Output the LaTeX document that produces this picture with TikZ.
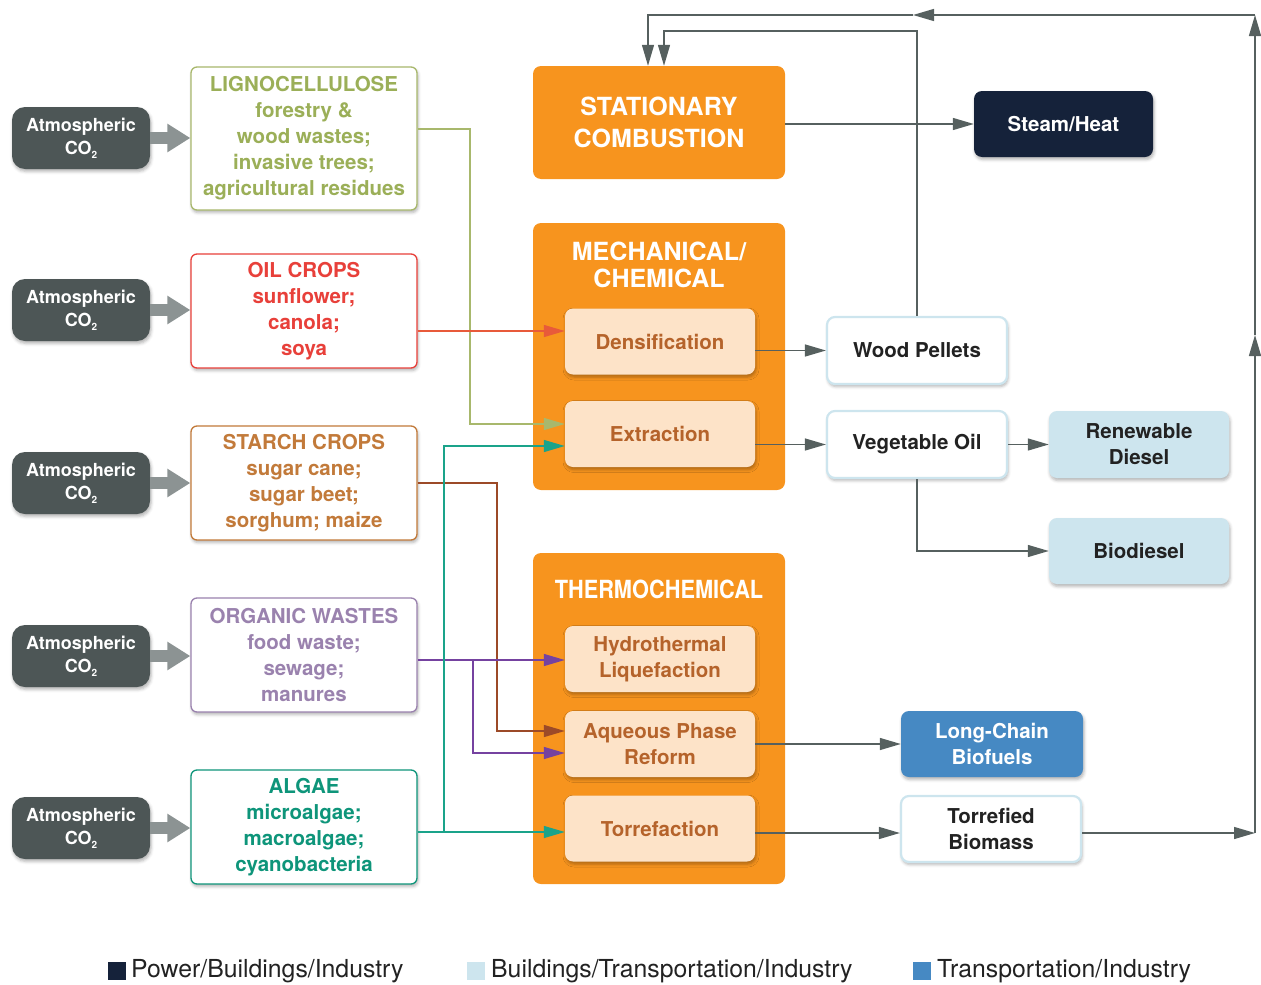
\documentclass[tikz,border=0pt]{standalone}
\usepackage{fontspec}
\usepackage{graphicx}
\setmainfont{TeX Gyre Heros}
\usetikzlibrary{arrows.meta,shadows.blur}

\definecolor{atmgray}{HTML}{4D5656}
\definecolor{arrgray}{HTML}{8C9393}
\definecolor{linegray}{HTML}{56605F}
\definecolor{lgcgreen}{HTML}{9BAF58}
\definecolor{lgcline}{HTML}{A8B86C}
\definecolor{oilred}{HTML}{E8403A}
\definecolor{oilline}{HTML}{E85A3A}
\definecolor{starchbrown}{HTML}{C27A3A}
\definecolor{starchline}{HTML}{9C4A28}
\definecolor{orgpurple}{HTML}{9A82AE}
\definecolor{orgline}{HTML}{7542A0}
\definecolor{algaeteal}{HTML}{0E957A}
\definecolor{algaeline}{HTML}{1AA38A}
\definecolor{procorange}{HTML}{F7941E}
\definecolor{subpeach}{HTML}{FDE3C8}
\definecolor{subtext}{HTML}{B5632B}
\definecolor{navybox}{HTML}{15223A}
\definecolor{lightblue}{HTML}{CDE5EE}
\definecolor{midblue}{HTML}{4689C3}
\definecolor{darktext}{HTML}{222222}

% carbon dioxide with a small, low subscript
\newcommand{\cotwo}{CO\raisebox{-0.45ex}{\fontsize{10}{10}\selectfont 2}}

\tikzset{
  softshadow/.style={blur shadow={shadow xshift=1pt, shadow yshift=-2.5pt,
      shadow blur radius=3pt, shadow opacity=30}},
  atm/.style={rounded corners=13pt, fill=atmgray, text=white, inner sep=0pt,
      minimum width=138pt, minimum height=62pt, align=center,
      font=\fontsize{18}{23}\selectfont\bfseries, softshadow},
  co2arr/.style={draw=arrgray, line width=12pt,
      -{Triangle[length=23pt,width=27pt]}},
  src/.style={draw, line width=1.3pt, fill=white, rounded corners=6pt,
      minimum width=226pt, inner sep=0pt, align=center,
      font=\fontsize{20.5}{26}\selectfont\bfseries, softshadow},
  proc/.style={fill=procorange, rounded corners=8pt, minimum width=252pt,
      inner sep=0pt},
  proctitle/.style={text=white, align=center,
      font=\fontsize{25}{27}\selectfont\bfseries},
  subbox/.style={fill=subpeach, rounded corners=8pt, minimum width=190pt,
      minimum height=66pt, inner sep=0pt, text=subtext, align=center,
      font=\fontsize{20.5}{26}\selectfont\bfseries, softshadow},
  outbox/.style={rounded corners=8pt, minimum width=180pt, minimum height=66pt,
      inner sep=0pt, align=center, font=\fontsize{20.5}{26}\selectfont\bfseries,
      softshadow},
  outwhite/.style={outbox, draw=lightblue, line width=2.2pt, fill=white, text=darktext},
  outlight/.style={outbox, fill=lightblue, text=darktext},
  conn/.style={line width=1.4pt, -{Triangle[length=21pt,width=12pt]}},
  gconn/.style={conn, draw=linegray},
  legsq/.style={minimum width=18pt, minimum height=18pt, inner sep=0pt},
  legtxt/.style={anchor=west, inner sep=0pt, text=darktext,
      font=\fontsize{24.8}{26}\selectfont},
}

\begin{document}
\begin{tikzpicture}[x=1pt,y=-1pt]
\useasboundingbox (0,0) rectangle (1261,985);

% feedstock sources
\node[src, draw=lgcline, text=lgcgreen, minimum height=143pt] (s1) at (304,138.5)
  {LIGNOCELLULOSE\\forestry \&\\wood wastes;\\invasive trees;\\agricultural residues};
\node[src, draw=oilred, text=oilred, minimum height=114pt] (s2) at (304,311)
  {OIL CROPS\\sunflower;\\canola;\\soya};
\node[src, draw=starchbrown, text=starchbrown, minimum height=114pt] (s3) at (304,483)
  {STARCH CROPS\\sugar cane;\\sugar beet;\\sorghum; maize};
\node[src, draw=orgpurple, text=orgpurple, minimum height=114pt] (s4) at (304,655)
  {ORGANIC WASTES\\food waste;\\sewage;\\manures};
\node[src, draw=algaeteal, text=algaeteal, minimum height=114pt] (s5) at (304,827)
  {ALGAE\\microalgae;\\macroalgae;\\cyanobacteria};

% atmospheric CO2 inputs
\node[atm] (a1) at (81,138) {Atmospheric\\\cotwo};
\node[atm] (a2) at (81,310) {Atmospheric\\\cotwo};
\node[atm] (a3) at (81,483) {Atmospheric\\\cotwo};
\node[atm] (a4) at (81,656) {Atmospheric\\\cotwo};
\node[atm] (a5) at (81,828) {Atmospheric\\\cotwo};
\foreach \i in {1,...,5}
  \draw[co2arr] (a\i.east) -- (a\i.east -| s\i.west);

% conversion processes
\node[proc, minimum height=113pt] (stat) at (659,122.5) {};
\node[proctitle, font=\fontsize{25}{32}\selectfont\bfseries] (statt) at (659,122.5) {STATIONARY\\COMBUSTION};
\node[proc, minimum height=267pt] (mech) at (659,356.5) {};
\node[proctitle] (mecht) at (659,264.5) {MECHANICAL/\\CHEMICAL};
\node[proc, minimum height=331pt] (thermo) at (659,718.5) {};
\node[proctitle] (thermot) at (659,589) {\scalebox{0.87}[1]{THERMOCHEMICAL}};

\node[subbox] (dens) at (660,341.5) {Densification};
\node[subbox] (extr) at (660,434) {Extraction};
\node[subbox] (hydro) at (660,659) {Hydrothermal\\Liquefaction};
\node[subbox] (aq) at (660,744) {Aqueous Phase\\Reform};
\node[subbox] (torr) at (660,828.5) {Torrefaction};

% products
\node[outbox, fill=navybox, text=white, minimum width=179pt] (steam) at (1063.5,124) {Steam/Heat};
\node[outwhite, minimum height=67pt] (wood) at (917,350.5) {Wood Pellets};
\node[outwhite, minimum height=67pt] (veg) at (917,444.5) {Vegetable Oil};
\node[outlight, minimum height=67pt] (renew) at (1139,444.5) {Renewable\\Diesel};
\node[outlight] (bio) at (1139,551) {Biodiesel};
\node[outbox, fill=midblue, text=white, minimum width=182pt] (long) at (992,744) {Long-Chain\\Biofuels};
\node[outwhite] (tb) at (991,829) {Torrefied\\Biomass};

% routing points
\coordinate (yL) at (470,129);
\coordinate (yLe) at (470,424);
\coordinate (yO) at (480,331);
\coordinate (yS) at (497,483);
\coordinate (ySe) at (497,731);
\coordinate (yW) at (480,660);
\coordinate (yWb) at (473,660);
\coordinate (yWe) at (473,753);
\coordinate (yA) at (480,832);
\coordinate (yAb) at (444,832);
\coordinate (yAe) at (444,446);
\coordinate (yT) at (800,833);
\coordinate (kW) at (664,31);
\coordinate (kR1) at (1255,833);
\coordinate (kR2) at (1255,335);
\coordinate (kR3) at (1255,15);
\coordinate (kR4) at (913,15);
\coordinate (kR5) at (648,15);

% feedstock flows
\draw[conn, draw=lgcline] (s1.east |- yL) -- (yL) -- (yLe) -- (extr.west |- yLe);
\draw[conn, draw=oilline] (s2.east |- yO) -- (dens.west |- yO);
\draw[conn, draw=starchline] (s3.east |- yS) -- (yS) -- (ySe) -- (aq.west |- ySe);
\draw[conn, draw=orgline] (s4.east |- yW) -- (hydro.west |- yW);
\draw[conn, draw=orgline] (yWb) -- (yWe) -- (aq.west |- yWe);
\draw[conn, draw=algaeline] (s5.east |- yA) -- (torr.west |- yA);
\draw[conn, draw=algaeline] (yAb) -- (yAe) -- (extr.west |- yAe);

% product flows
\draw[gconn] (stat.east |- steam.west) -- (steam.west);
\draw[gconn] (dens.east |- wood.west) -- (wood.west);
\draw[gconn] (extr.east |- veg.west) -- (veg.west);
\draw[gconn] (veg.east) -- (renew.west);
\draw[gconn] (veg.south) |- (bio.west);
\draw[gconn] (aq.east |- long.west) -- (long.west);
\draw[gconn] (torr.east |- yT) -- (tb.west |- yT);

% return of solid fuels to combustion
\draw[gconn] (wood.north) |- (kW) -- (kW |- stat.north);
\draw[gconn] (tb.east |- kR1) -- (kR1);
\draw[gconn] (kR1) -- (kR2);
\draw[gconn] (kR2) -- (kR3);
\draw[gconn] (kR3) -- (kR4);
\draw[gconn] (kR4) -- (kR5) -- (kR5 |- stat.north);

% legend
\node[legsq, fill=navybox] (lg1) at (117,971) {};
\node[legtxt] (lt1) at (131,971) {Power/Buildings/Industry};
\node[legsq, fill=lightblue] (lg2) at (476,971) {};
\node[legtxt] (lt2) at (491,971) {Buildings/Transportation/Industry};
\node[legsq, fill=midblue] (lg3) at (922,971) {};
\node[legtxt] (lt3) at (937,971) {Transportation/Industry};
\end{tikzpicture}
\end{document}
